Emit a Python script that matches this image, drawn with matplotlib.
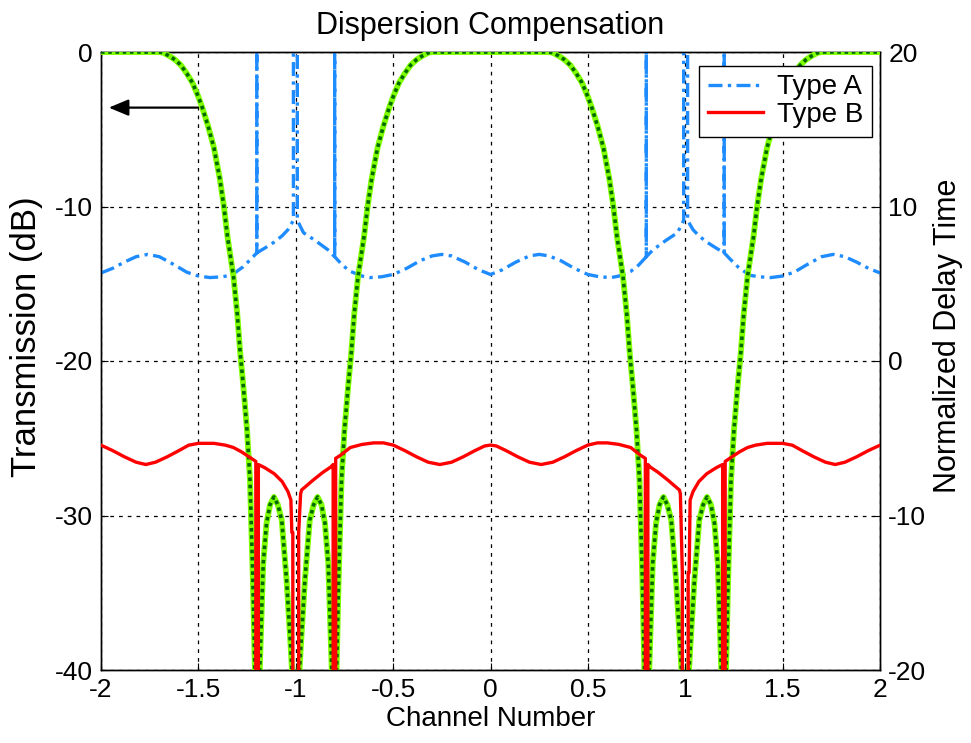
import matplotlib
matplotlib.use("Agg")
import matplotlib.pyplot as plt

plt.rcParams['font.family'] = ['Liberation Sans', 'DejaVu Sans']
plt.rcParams['axes.unicode_minus'] = False

# ---------------- data ----------------
# Transmission (dB), left axis
trans_x = [
    -2.0, -1.70, -1.68, -1.65, -1.62, -1.59, -1.56, -1.53, -1.50, -1.48, -1.45, -1.42, -1.39, -1.37,
    -1.35, -1.32, -1.30, -1.285, -1.27, -1.25, -1.235, -1.22, -1.21, -1.20, -1.185, -1.167, -1.15,
    -1.132, -1.112, -1.092, -1.072, -1.047, -1.026, -1.015, -1.0,
    -0.985, -0.974, -0.953, -0.928, -0.908, -0.888, -0.868, -0.85, -0.833, -0.815, -0.80, -0.79,
    -0.78, -0.765, -0.75, -0.73, -0.715, -0.70, -0.68, -0.65, -0.63, -0.61, -0.58, -0.55, -0.52,
    -0.50, -0.47, -0.44, -0.41, -0.38, -0.35, -0.32, -0.30, 0.0,
    0.30, 0.32, 0.35, 0.38, 0.41, 0.44, 0.47, 0.50, 0.52, 0.55, 0.58, 0.61, 0.63, 0.65, 0.68, 0.70,
    0.715, 0.73, 0.75, 0.765, 0.78, 0.79, 0.80, 0.815, 0.833, 0.85, 0.868, 0.888, 0.908, 0.928,
    0.953, 0.974, 0.985, 1.0,
    1.015, 1.026, 1.047, 1.072, 1.092, 1.112, 1.132, 1.15, 1.167, 1.185, 1.20, 1.21, 1.22, 1.235,
    1.25, 1.27, 1.285, 1.30, 1.32, 1.35, 1.37, 1.39, 1.42, 1.45, 1.48, 1.50, 1.53, 1.56, 1.59,
    1.62, 1.65, 1.68, 1.70, 2.0,
]
trans_db = [
    0, 0, -0.05, -0.25, -0.5, -0.85, -1.38, -2.0, -2.9, -3.6, -4.8, -6.2, -8.2, -9.9,
    -12.0, -14.5, -17.0, -19.5, -21.5, -24.5, -27.7, -34.2, -39.8, -60, -40, -33.1, -30.5,
    -29.3, -28.8, -29.3, -30.3, -34.2, -38.5, -41, -60,
    -41, -38.5, -34.2, -30.3, -29.3, -28.8, -29.3, -30.5, -33.1, -40, -60, -39.8,
    -34.2, -27.7, -24.5, -21.5, -19.5, -17.0, -14.5, -12.0, -9.9, -8.2, -6.2, -4.8, -3.6,
    -2.9, -2.0, -1.38, -0.85, -0.5, -0.25, -0.05, 0, 0,
    0, -0.05, -0.25, -0.5, -0.85, -1.38, -2.0, -2.9, -3.6, -4.8, -6.2, -8.2, -9.9, -12.0, -14.5, -17.0,
    -19.5, -21.5, -24.5, -27.7, -34.2, -39.8, -60, -40, -33.1, -30.5, -29.3, -28.8, -29.3, -30.3,
    -34.2, -38.5, -41, -60,
    -41, -38.5, -34.2, -30.3, -29.3, -28.8, -29.3, -30.5, -33.1, -40, -60, -39.8, -34.2, -27.7,
    -24.5, -21.5, -19.5, -17.0, -14.5, -12.0, -9.9, -8.2, -6.2, -4.8, -3.6, -2.9, -2.0, -1.38, -0.85,
    -0.5, -0.25, -0.05, 0, 0,
]

# Type A normalized delay, right axis
typeA_x = [
    -2.0, -1.94, -1.88, -1.82, -1.76, -1.70, -1.62, -1.56, -1.50, -1.44, -1.38, -1.33, -1.27, -1.23,
    -1.20, -1.20, -1.20, -1.16, -1.11, -1.07, -1.04, -1.012, -1.012, -0.992, -0.992, -0.96, -0.90,
    -0.835, -0.80, -0.80, -0.80, -0.76, -0.72, -0.66, -0.62, -0.56, -0.50, -0.43, -0.36, -0.30,
    -0.25, -0.20, -0.13, -0.06, 0.0, 0.06, 0.13, 0.20, 0.25, 0.30, 0.36, 0.43, 0.50, 0.56, 0.62,
    0.66, 0.72, 0.76, 0.80, 0.80, 0.80, 0.835, 0.90, 0.96, 0.992, 0.992, 1.012, 1.012, 1.04, 1.07,
    1.11, 1.16, 1.20, 1.20, 1.20, 1.23, 1.27, 1.33, 1.38, 1.44, 1.50, 1.56, 1.62, 1.70, 1.76, 1.82,
    1.88, 1.94, 2.0,
]
typeA_y = [
    5.7, 6.0, 6.4, 6.75, 6.9, 6.75, 6.2, 5.75, 5.5, 5.4, 5.45, 5.55, 6.1, 6.6,
    7.0, 40, 7.0, 7.3, 7.7, 8.1, 8.5, 9.1, 40, 40, 9.1, 8.3, 7.8,
    7.2, 6.75, 40, 6.75, 6.2, 5.8, 5.5, 5.4, 5.45, 5.6, 6.0, 6.5, 6.8,
    6.9, 6.8, 6.4, 5.9, 5.6, 5.9, 6.4, 6.8, 6.9, 6.8, 6.5, 6.0, 5.6, 5.45, 5.4,
    5.5, 5.8, 6.2, 6.75, 40, 6.75, 7.2, 7.8, 8.3, 9.1, 40, 40, 9.1, 8.5, 8.1,
    7.7, 7.3, 7.0, 40, 7.0, 6.6, 6.1, 5.55, 5.45, 5.4, 5.5, 5.75, 6.2, 6.75, 6.9, 6.75,
    6.4, 6.0, 5.7,
]

# Type B normalized delay, right axis
typeB_x = [
    -2.0, -1.94, -1.88, -1.82, -1.77, -1.72, -1.66, -1.60, -1.55, -1.50, -1.42, -1.36, -1.32, -1.28,
    -1.24, -1.205, -1.205, -1.192, -1.192, -1.16, -1.11, -1.07, -1.04, -1.025, -1.02, -1.015,
    -1.015, -0.985, -0.985, -0.975, -0.97, -0.91, -0.86, -0.82, -0.808, -0.808, -0.795, -0.795,
    -0.77, -0.72, -0.66, -0.60, -0.55, -0.50, -0.44, -0.38, -0.32, -0.26, -0.20, -0.14, -0.08,
    -0.03, 0.0, 0.03, 0.08, 0.14, 0.20, 0.26, 0.32, 0.38, 0.44, 0.50, 0.55, 0.60, 0.66, 0.72,
    0.77, 0.795, 0.795, 0.808, 0.808, 0.82, 0.86, 0.91, 0.97, 0.975, 0.985, 0.985, 1.015, 1.015,
    1.02, 1.025, 1.04, 1.07, 1.11, 1.16, 1.192, 1.192, 1.205, 1.205, 1.24, 1.28, 1.32, 1.36, 1.42,
    1.50, 1.55, 1.60, 1.66, 1.72, 1.77, 1.82, 1.88, 1.94, 2.0,
]
typeB_y = [
    -5.45, -5.8, -6.2, -6.55, -6.7, -6.55, -6.2, -5.8, -5.45, -5.33, -5.33, -5.45, -5.6, -5.87,
    -6.2, -6.5, -45, -45, -6.7, -6.9, -7.3, -7.8, -8.45, -9.0, -11.1, -11.1,
    -45, -45, -11.1, -8.6, -8.35, -7.7, -7.2, -6.86, -6.7, -45, -45, -6.3,
    -6.1, -5.6, -5.4, -5.3, -5.3, -5.44, -5.8, -6.2, -6.55, -6.7, -6.55, -6.2, -5.8,
    -5.5, -5.44, -5.5, -5.8, -6.2, -6.55, -6.7, -6.55, -6.2, -5.8, -5.44, -5.3, -5.3, -5.4, -5.6,
    -6.1, -6.3, -45, -45, -6.7, -6.86, -7.2, -7.7, -8.35, -8.6, -13.7, -45, -45, -13.7,
    -13.7, -9.0, -8.45, -7.8, -7.3, -6.9, -6.7, -45, -45, -6.5, -6.2, -5.87, -5.6, -5.45, -5.33,
    -5.33, -5.45, -5.8, -6.2, -6.55, -6.7, -6.55, -6.2, -5.8, -5.45,
]

x_ticks = [-2, -1.5, -1, -0.5, 0, 0.5, 1, 1.5, 2]
x_tick_labels = ['-2', '-1.5', '-1', '-0.5', '0', '0.5', '1', '1.5', '2']
left_ticks = [-40, -30, -20, -10, 0]
right_ticks = [-20, -10, 0, 10, 20]

# ---------------- figure ----------------
fig = plt.figure(figsize=(9.71, 7.43), dpi=100)
ax = fig.add_axes([101/971, 1 - 670/743, (880 - 101)/971, (670 - 52)/743])
ax2 = ax.twinx()

TICK_FS = 19
ax.set_xlim(-2, 2)
ax.set_ylim(-40, 0)
ax2.set_ylim(-20, 20)
ax.set_xticks(x_ticks)
ax.set_xticklabels(x_tick_labels)
ax.set_yticks(left_ticks)
ax.set_yticklabels([str(v) for v in left_ticks])
ax2.set_yticks(right_ticks)
ax2.set_yticklabels([str(v) for v in right_ticks])
for a in (ax, ax2):
    a.tick_params(direction='in', labelsize=TICK_FS, length=5, width=0.8, pad=6)
    for s in a.spines.values():
        s.set_linewidth(1.0)
        s.set_color('black')
ax.grid(True, color='black', linestyle=(0, (3, 4)), linewidth=0.9)

ax.set_xlabel('Channel Number', fontsize=20, labelpad=3)
ax.set_ylabel('Transmission (dB)', fontsize=25, labelpad=8)
ax2.set_ylabel('Normalized Delay Time', fontsize=22, labelpad=5)
ax.yaxis.label.set_y(0.54)
ax2.yaxis.label.set_y(0.54)
ax.set_title('Dispersion Compensation', fontsize=22, pad=13)

# Type A (blue dash-dot) on right axis
lA, = ax2.plot(typeA_x, typeA_y, color='#1E8CFF', linewidth=2.4,
               linestyle=(0, (4.2, 1.6, 1.0, 1.6)), label='Type A', zorder=2)
# Transmission (green with dotted dark-green overlay), on left scale
ax2.plot(trans_x, trans_db, color='#80FF00', linewidth=4.2, transform=ax.transData,
         zorder=3, solid_capstyle='butt')
ax2.plot(trans_x, trans_db, color='#006A00', linewidth=2.6, linestyle=(0, (1.0, 1.0)),
         transform=ax.transData, zorder=4)
# Type B (red) on right axis
lB, = ax2.plot(typeB_x, typeB_y, color='#FF0000', linewidth=2.4, label='Type B', zorder=5)

# Arrow pointing to the left axis
ax.annotate('', xy=(-1.96, -3.6), xytext=(-1.5, -3.6),
            arrowprops=dict(arrowstyle='-|>,head_length=1.2,head_width=0.5',
                            color='black', lw=1.6, shrinkA=0, shrinkB=0), zorder=6)

leg = ax2.legend(handles=[lA, lB], loc='upper right', fontsize=20, frameon=True,
                 fancybox=False, edgecolor='black', framealpha=1,
                 bbox_to_anchor=(0.99, 0.978), handlelength=2.0, borderpad=0.32,
                 labelspacing=0.05, handletextpad=0.5, borderaxespad=0)
leg.get_frame().set_linewidth(1.0)

fig.savefig('out.png', dpi=100)
